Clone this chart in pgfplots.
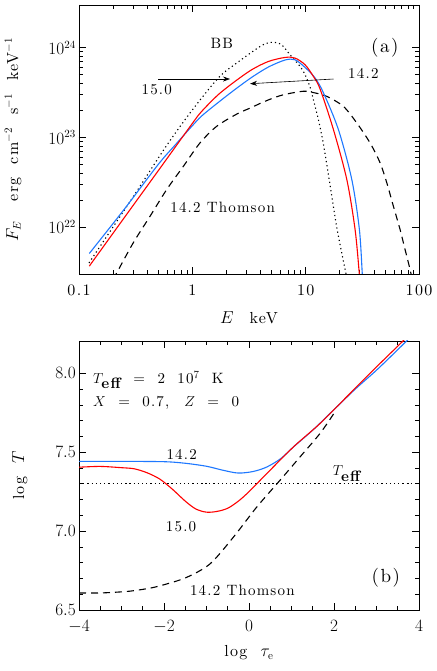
\documentclass[border=0pt]{standalone}
\usepackage{fontspec}
\setmainfont{lmroman10-regular.otf}[LetterSpace=8, BoldFont=lmroman10-bold.otf, ItalicFont=lmroman10-italic.otf]
\usepackage{pgfplots}
\pgfplotsset{compat=1.18}
\usetikzlibrary{arrows.meta}
\definecolor{myblue}{RGB}{30,120,255}
\definecolor{myred}{RGB}{255,0,0}
\newcommand{\tfont}{\fontsize{16}{19}\selectfont}
\newcommand{\afont}{\fontsize{15}{18}\selectfont}
\begin{document}
\begin{tikzpicture}
\useasboundingbox (0,0) rectangle (436pt,671pt);
\pgfplotsset{
 common/.style={
  scale only axis, width=340pt, height=269pt, anchor=south west,
  tick label style={font=\tfont, inner sep=0.5pt},
  major tick length=7pt, minor tick length=4pt,
  axis line style={line width=0.9pt},
  every tick/.style={black, line width=0.7pt},
  xtick pos=both, ytick pos=both,
  xticklabel style={yshift=-10pt},
  yticklabel style={xshift=-2.5pt},
 },
 blu/.style={color=myblue, line width=1.1pt, smooth, tension=0.5},
 rd/.style={color=myred, line width=1.1pt, smooth, tension=0.5},
 dsh/.style={black, line width=1.1pt, dash pattern=on 7pt off 5pt, smooth, tension=0.5},
 dtt/.style={black, line width=1.1pt, dash pattern=on 1.2pt off 3pt, smooth, tension=0.5},
}
% ---------------- panel (a)
\begin{loglogaxis}[common, at={(79pt,397pt)},
  xmin=0.1, xmax=100, ymin=3e21, ymax=3e24,
  xtick={0.1,1,10,100}, xticklabels={0.1,1,10,100},
  ytick={1e22,1e23,1e24},
  xlabel={$E$\quad keV},
  ylabel={$F_E$\ \ \ erg\ \ cm$^{-2}$\ \ s$^{-1}$\ \ keV$^{-1}$},
  xlabel style={font=\tfont, at={(axis description cs:0.5,-0.164)},anchor=center},
  ylabel style={font=\tfont, at={(axis description cs:-0.194,0.5)},anchor=center},
 ]
% BB
\addplot[dtt] coordinates {
 (0.1225,3.98e21) (0.1995,1.0e22) (0.3162,2.399e22) (0.5741,7.638e22) (0.955,1.875e23)
 (1.694,4.60e23) (2.466,6.761e23) (3.963,1.033e24) (4.853,1.146e24) (6.026,1.096e24)
 (7.278,8.356e23) (8.933,6.194e23) (9.886,5.0e23) (10.94,3.631e23) (11.70,2.630e23)
 (12.94,1.585e23) (14.32,8.511e22) (16.41,2.951e22) (18.79,1.0e22) (21.53,4.169e21)
 (22.91,2.818e21) (23.71,1.995e21)
};
% Thomson
\addplot[dsh] coordinates {
 (0.1995,2.630e21) (0.2153,3.090e21) (0.3013,6.683e21) (0.4236,1.321e22) (0.5943,2.624e22)
 (0.8337,4.764e22) (1.169,8.690e22) (1.641,1.330e23) (2.466,1.820e23) (3.342,2.163e23)
 (3.981,2.399e23) (5.188,2.754e23) (6.577,3.020e23) (9.550,3.273e23) (11.70,3.162e23)
 (15.35,2.871e23) (21.53,2.218e23) (28.25,1.449e23) (36.98,8.690e22) (45.39,5.200e22)
 (52.00,3.112e22) (59.43,1.710e22) (68.08,9.397e21) (75.34,5.623e21) (83.37,3.373e21)
 (89.13,2.239e21)
};
% 14.2 blue
\addplot[blu] coordinates {
 (0.1233,5.08e21) (0.2512,1.585e22) (0.5012,5.012e22) (0.7079,8.27e22) (1.0,1.349e23)
 (1.211,1.738e23) (1.694,2.455e23)
 (2.382,3.428e23) (3.342,4.677e23) (4.688,6.095e23) (6.577,7.30e23) (8.054,7.345e23)
 (9.886,6.026e23) (12.11,4.603e23) (14.32,3.162e23) (19.45,1.222e23) (25.53,3.388e22)
 (29.79,9.397e21) (31.62,2.951e21) (32.36,1.995e21)
};
% 15.0 red
\addplot[rd] coordinates {
 (0.1233,3.67e21) (0.2512,1.276e22) (0.5012,4.266e22) (1.0,1.432e23) (1.211,1.954e23)
 (1.694,2.999e23) (2.382,4.217e23) (3.342,5.689e23) (4.688,7.031e23) (6.577,7.798e23)
 (8.054,7.674e23) (9.886,6.457e23) (11.70,4.786e23) (13.40,3.467e23) (17.58,1.222e23)
 (23.07,3.388e22) (27.29,9.397e21) (29.79,2.951e21) (30.55,1.995e21)
};
% arrows
\addplot[black, line width=0.6pt, -{Stealth[length=7pt,width=5pt]}] coordinates {(0.501,4.48e23) (2.15,4.48e23)};
\addplot[black, line width=0.6pt, -{Stealth[length=7pt,width=5pt]}] coordinates {(17.6,4.48e23) (3.23,3.97e23)};
\node[font=\afont] at (axis cs:1.82,1.13e24) {BB};
\node[font=\afont] at (axis cs:0.485,3.4e23) {15.0};
\node[font=\afont] at (axis cs:32.3,5.13e23) {14.2};
\node[font=\afont] at (axis cs:1.85,1.68e22) {14.2 Thomson};
\node[font=\fontsize{19}{22}\selectfont] at (axis cs:50,1.0e24) {(a)};
\end{loglogaxis}
% ---------------- panel (b)
\begin{axis}[common, at={(79pt,61pt)},
  xmin=-4, xmax=4, ymin=6.5, ymax=8.205,
  xtick={-4,-2,0,2,4}, minor x tick num=3,
  ytick={6.5,7,7.5,8}, minor y tick num=4,
  yticklabel style={/pgf/number format/.cd, fixed, fixed zerofill, precision=1},
  xlabel={log\ \ $\tau_{\mathrm{e}}$},
  ylabel={log\ \ $T$},
  xlabel style={font=\tfont, at={(axis description cs:0.5,-0.16)},anchor=center},
  ylabel style={font=\tfont, at={(axis description cs:-0.174,0.5)},anchor=center},
 ]
\addplot[dtt, smooth=false] coordinates {(-4,7.301) (4,7.301)};
\addplot[dsh] coordinates {
 (-4,6.608) (-3.5,6.608) (-3,6.615) (-2.722,6.622) (-2.3,6.64) (-1.936,6.665)
 (-1.466,6.707) (-0.918,6.792) (-0.369,6.961) (0.181,7.152) (0.729,7.322)
 (1.2,7.470) (1.671,7.619) (2.024,7.756)
};
\addplot[blu] coordinates {
 (-4,7.442) (-3,7.442) (-2.0,7.44) (-1.5,7.43) (-1.0,7.411) (-0.6,7.385)
 (-0.25,7.368) (0.1,7.378) (0.416,7.406) (0.75,7.46) (1.043,7.533)
 (1.5,7.64) (2.0,7.77) (2.5,7.90) (3.0,8.02) (3.5,8.15) (3.8,8.23)
};
\addplot[rd] coordinates {
 (-4,7.405) (-3.5,7.41) (-3.0,7.402) (-2.7,7.395) (-2.4,7.37) (-2.1,7.33)
 (-1.8,7.265) (-1.5,7.19) (-1.25,7.14) (-1.0,7.12) (-0.75,7.125) (-0.5,7.145)
 (-0.25,7.19) (0,7.25) (0.416,7.364) (1.043,7.533) (1.671,7.682) (2.298,7.851)
 (2.925,8.021) (3.631,8.207) (3.7,8.23)
};
\node[font=\afont, anchor=west] at (axis cs:-3.75,7.957) {$T_{\textbf{eff}}$\ \ =\ \ 2\ \ 10$^7$\ \ K};
\node[font=\afont, anchor=west] at (axis cs:-3.75,7.813) {$X$\ \ =\ \ 0.7,\quad $Z$\ \ =\ \ 0};
\node[font=\afont] at (axis cs:-1.584,7.487) {14.2};
\node[font=\afont] at (axis cs:-1.6,7.025) {15.0};
\node[font=\afont] at (axis cs:2.3,7.364) {$T_{\textbf{eff}}$};
\node[font=\afont] at (axis cs:-0.157,6.627) {14.2 Thomson};
\node[font=\fontsize{19}{22}\selectfont] at (axis cs:3.22,6.703) {(b)};
\end{axis}
\end{tikzpicture}
\end{document}
